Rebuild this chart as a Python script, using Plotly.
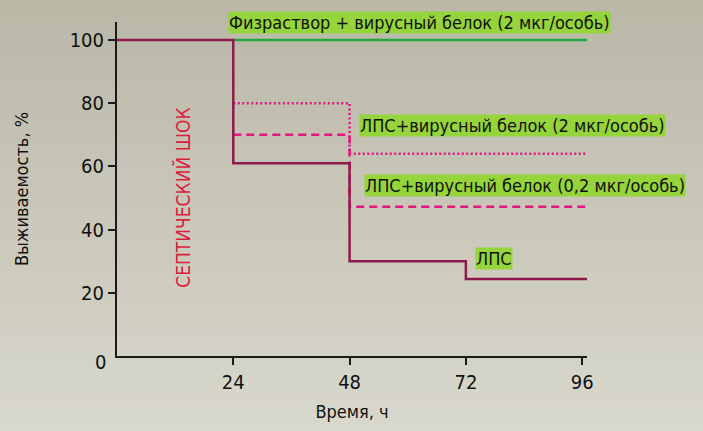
import plotly.graph_objects as go

# -----------------------------------
# Data
# -----------------------------------

time_saline = [24, 97]
surv_saline = [100, 100]

time_lps = [0, 24, 48, 72, 97]
surv_lps = [100, 61, 30, 24.4, 24.4]

time_lps_2 = [24, 48, 97]
surv_lps_2 = [80, 64, 64]

time_lps_02 = [24, 48, 97]
surv_lps_02 = [70, 47.2, 47.2]

x_ticks = [24, 48, 72, 96]
y_ticks = [20, 40, 60, 80, 100]

FONT = "Liberation Sans Narrow, DejaVu Sans Condensed, Roboto, sans-serif"
LABEL_BG = "#95D43A"

fig = go.Figure()

# -----------------------------------
# Background gradient
# -----------------------------------

top_rgb = (186, 183, 167)
bot_rgb = (217, 216, 205)
n_bands = 40
y_top, y_bot = 1.08, -0.24
for i in range(n_bands):
    t = i / (n_bands - 1)
    c = tuple(int(round(a + (b - a) * t)) for a, b in zip(top_rgb, bot_rgb))
    fig.add_shape(
        type="rect", xref="paper", yref="paper", layer="below",
        x0=-0.3, x1=1.3,
        y0=y_top - (y_top - y_bot) * (i + 1) / n_bands - 0.002,
        y1=y_top - (y_top - y_bot) * i / n_bands,
        line_width=0, fillcolor="rgb(%d,%d,%d)" % c,
    )

# -----------------------------------
# Curves
# -----------------------------------

fig.add_trace(go.Scatter(
    x=time_saline, y=surv_saline, mode="lines", line_shape="hv",
    line=dict(color="#1FA83E", width=2.5), hoverinfo="skip",
))

fig.add_trace(go.Scatter(
    x=time_lps_2, y=surv_lps_2, mode="lines", line_shape="hv",
    line=dict(color="#E2187F", width=2.5, dash="2px,2.5px"), hoverinfo="skip",
))

fig.add_trace(go.Scatter(
    x=time_lps_02, y=surv_lps_02, mode="lines", line_shape="hv",
    line=dict(color="#E2187F", width=2.5, dash="8px,5px"), hoverinfo="skip",
))

fig.add_trace(go.Scatter(
    x=time_lps, y=surv_lps, mode="lines", line_shape="hv",
    line=dict(color="#8E1A4B", width=2.5), hoverinfo="skip",
))

# -----------------------------------
# Labels
# -----------------------------------

labels = [
    ("Физраствор + вирусный белок (2 мкг/особь)", 23.0, 105.4),
    ("ЛПС+вирусный белок (2 мкг/особь)", 50.0, 73.1),
    ("ЛПС+вирусный белок (0,2 мкг/особь)", 50.9, 54.1),
    ("ЛПС", 73.9, 30.9),
]
for text, lx, ly in labels:
    fig.add_annotation(
        x=lx, y=ly, text=text, showarrow=False,
        xanchor="left", yanchor="middle",
        bgcolor=LABEL_BG, borderpad=0,
        font=dict(family=FONT, size=18, color="#111111"),
    )

fig.add_annotation(
    x=13.7, y=50.2, text="СЕПТИЧЕСКИЙ ШОК", showarrow=False,
    textangle=-90, font=dict(family=FONT, size=19, color="#DA1E3C"),
)

fig.add_annotation(
    x=0, y=0, xref="x", yref="y", text="0", showarrow=False,
    xanchor="right", yanchor="middle", xshift=-9, yshift=-6,
    font=dict(family=FONT, size=20, color="#111111"),
)

# -----------------------------------
# Layout
# -----------------------------------

fig.update_layout(
    width=703, height=431,
    margin=dict(l=117, r=116, t=22, b=75),
    paper_bgcolor="#CFCDC1",
    plot_bgcolor="rgba(0,0,0,0)",
    showlegend=False,
    font=dict(family=FONT, size=20, color="#111111"),
    xaxis=dict(
        range=[0, 97], tickvals=x_ticks, ticks="outside", ticklen=7,
        tickwidth=2, tickcolor="#1a1a1a",
        showline=True, linecolor="#1a1a1a", linewidth=2,
        showgrid=False, zeroline=False,
        tickfont=dict(family=FONT, size=20),
        title=dict(text="Время, ч", font=dict(family=FONT, size=18), standoff=12),
    ),
    yaxis=dict(
        range=[0, 105.7], tickvals=y_ticks, ticks="outside", ticklen=7,
        tickwidth=2, tickcolor="#1a1a1a",
        showline=True, linecolor="#1a1a1a", linewidth=2,
        showgrid=False, zeroline=False,
        tickfont=dict(family=FONT, size=20),
        title=dict(text="Выживаемость, %", font=dict(family=FONT, size=18), standoff=36),
    ),
)

fig.write_html(
    "out.html",
    config={"displayModeBar": False},
    post_script="document.body.style.margin='0px';",
)
